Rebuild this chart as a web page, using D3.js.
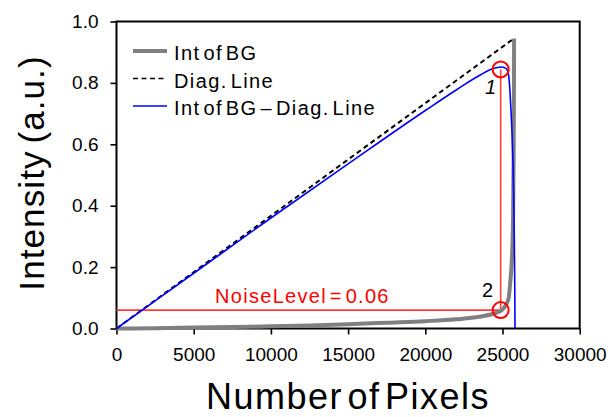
<!DOCTYPE html>
<html lang="en">
<head>
<meta charset="UTF-8">
<title>Intensity vs Number of Pixels</title>
<script src="https://d3js.org/d3.v7.min.js"></script>
<style>
  body { margin: 0; background: #fff; }
  text { font-family: "Liberation Sans", Arial, sans-serif; }
</style>
</head>
<body>
<script>
// values
var xTicks = [0, 5000, 10000, 15000, 20000, 25000, 30000];
var yTicks = [0, 0.2, 0.4, 0.6, 0.8, 1.0];

// Int of BG (sorted background intensity)
var bgX = [0, 2500, 5000, 7500, 10000, 12500, 15000, 17500, 20000, 22000, 23500, 24400, 24900, 25200, 25400, 25500, 25600, 25680, 25720, 25740, 25750];
var bgY = [0, 0.001, 0.003, 0.005, 0.007, 0.010, 0.014, 0.019, 0.024, 0.030, 0.038, 0.048, 0.058, 0.075, 0.100, 0.150, 0.220, 0.350, 0.550, 0.750, 0.945];

// Diag. Line
var diagX = [0, 25750];
var diagY = [0, 0.945];

// Int of BG - Diag. Line
var difX = [0, 5000, 10000, 15000, 20000, 22000, 23500, 24400, 24900, 25200, 25380, 25530, 25660, 25750, 25800, 25810];
var difY = [0, 0.18, 0.36, 0.536, 0.71, 0.777, 0.824, 0.847, 0.852, 0.848, 0.83, 0.73, 0.57, 0.35, 0.10, 0];

// marked points and noise level
var markX = [24880, 24880];
var markY = [0.844, 0.06];
var markLabels = ['1', '2'];
var noiseLevel = 0.06;

var legendNames = ['Int of BG', 'Diag. Line', 'Int of BG \u2013 Diag. Line'];

var svg = d3.select('body').append('svg')
    .attr('width', 612)
    .attr('height', 417);

var x = d3.scaleLinear().domain([0, 30000]).range([116.5, 579.7]);
var y = d3.scaleLinear().domain([0, 1]).range([328.5, 21.5]);

// axes
var xAxis = svg.append('g')
    .attr('transform', 'translate(0,' + y(0) + ')')
    .call(d3.axisBottom(x).tickValues(xTicks).tickFormat(d3.format('d')).tickSize(6).tickSizeOuter(0).tickPadding(13));
var yAxis = svg.append('g')
    .attr('transform', 'translate(' + x(0) + ',0)')
    .call(d3.axisLeft(y).tickValues(yTicks).tickFormat(d3.format('.1f')).tickSize(6).tickSizeOuter(0).tickPadding(12));

[xAxis, yAxis].forEach(function(a) {
    a.select('.domain').remove();
    a.selectAll('line').attr('stroke', '#000').attr('stroke-width', 1.6);
    a.selectAll('text')
        .attr('fill', '#000')
        .style('font-size', '19px')
        .style('font-family', '"Liberation Sans", Arial, sans-serif');
});

// frame
svg.append('rect')
    .attr('x', x(0)).attr('y', y(1))
    .attr('width', x(30000) - x(0)).attr('height', y(0) - y(1))
    .attr('fill', 'none').attr('stroke', '#000').attr('stroke-width', 2);

// noise level lines
svg.append('line')
    .attr('x1', x(0)).attr('x2', x(markX[1]))
    .attr('y1', y(noiseLevel)).attr('y2', y(noiseLevel))
    .attr('stroke', '#ff3c3c').attr('stroke-width', 1.6);
svg.append('line')
    .attr('x1', x(markX[0])).attr('x2', x(markX[1]))
    .attr('y1', y(markY[0])).attr('y2', y(markY[1]))
    .attr('stroke', '#ff3c3c').attr('stroke-width', 1.6);

var line = d3.line()
    .x(function(d) { return x(d[0]); })
    .y(function(d) { return y(d[1]); })
    .curve(d3.curveMonotoneX);

svg.append('path')
    .datum(d3.zip(bgX, bgY))
    .attr('d', line)
    .attr('fill', 'none').attr('stroke', '#808080').attr('stroke-width', 4);

svg.append('path')
    .datum(d3.zip(diagX, diagY))
    .attr('d', line)
    .attr('fill', 'none').attr('stroke', '#000').attr('stroke-width', 2)
    .attr('stroke-dasharray', '5,3.5');

svg.append('path')
    .datum(d3.zip(difX, difY))
    .attr('d', line)
    .attr('fill', 'none').attr('stroke', '#0000ff').attr('stroke-width', 1.6);

// circles
svg.selectAll('circle.mark')
    .data(d3.zip(markX, markY))
    .enter().append('circle')
    .attr('class', 'mark')
    .attr('cx', function(d) { return x(d[0]); })
    .attr('cy', function(d) { return y(d[1]); })
    .attr('r', 8)
    .attr('fill', 'none').attr('stroke', '#ff0000').attr('stroke-width', 2);

// point labels
svg.append('text')
    .attr('x', 485).attr('y', 94)
    .style('font-size', '20px').style('font-style', 'italic')
    .text(markLabels[0]);
svg.append('text')
    .attr('x', 482).attr('y', 297)
    .style('font-size', '20px')
    .text(markLabels[1]);

svg.append('text')
    .attr('x', 215).attr('y', 303)
    .attr('fill', '#ff0000')
    .style('font-size', '20px')
    .style('letter-spacing', '1.3px')
    .style('word-spacing', '-4px')
    .text('NoiseLevel = ' + noiseLevel.toFixed(2));

// legend
var legend = svg.append('g');
var rows = legend.selectAll('g')
    .data(legendNames)
    .enter().append('g')
    .attr('transform', function(d, i) { return 'translate(133,' + (51 + i * 27.5) + ')'; });

rows.append('line')
    .attr('x1', 0).attr('x2', 34)
    .attr('stroke', function(d, i) { return ['#808080', '#000', '#0000ff'][i]; })
    .attr('stroke-width', function(d, i) { return [4, 1.6, 1.6][i]; })
    .attr('stroke-dasharray', function(d, i) { return i === 1 ? '5,3.5' : null; });

rows.append('text')
    .attr('x', 41).attr('y', 9)
    .style('font-size', '20px')
    .style('letter-spacing', '1.4px')
    .style('word-spacing', '-4px')
    .text(function(d) { return d; });

// axis titles
svg.append('text')
    .attr('x', 348).attr('y', 409)
    .attr('text-anchor', 'middle')
    .style('font-size', '36px')
    .style('letter-spacing', '1.5px')
    .style('word-spacing', '-7px')
    .text('Number of Pixels');

svg.append('text')
    .attr('transform', 'translate(44,173) rotate(-90)')
    .attr('text-anchor', 'middle')
    .style('font-size', '35px')
    .style('letter-spacing', '1.1px')
    .style('word-spacing', '-4px')
    .text('Intensity (a.u.)');
</script>
</body>
</html>
